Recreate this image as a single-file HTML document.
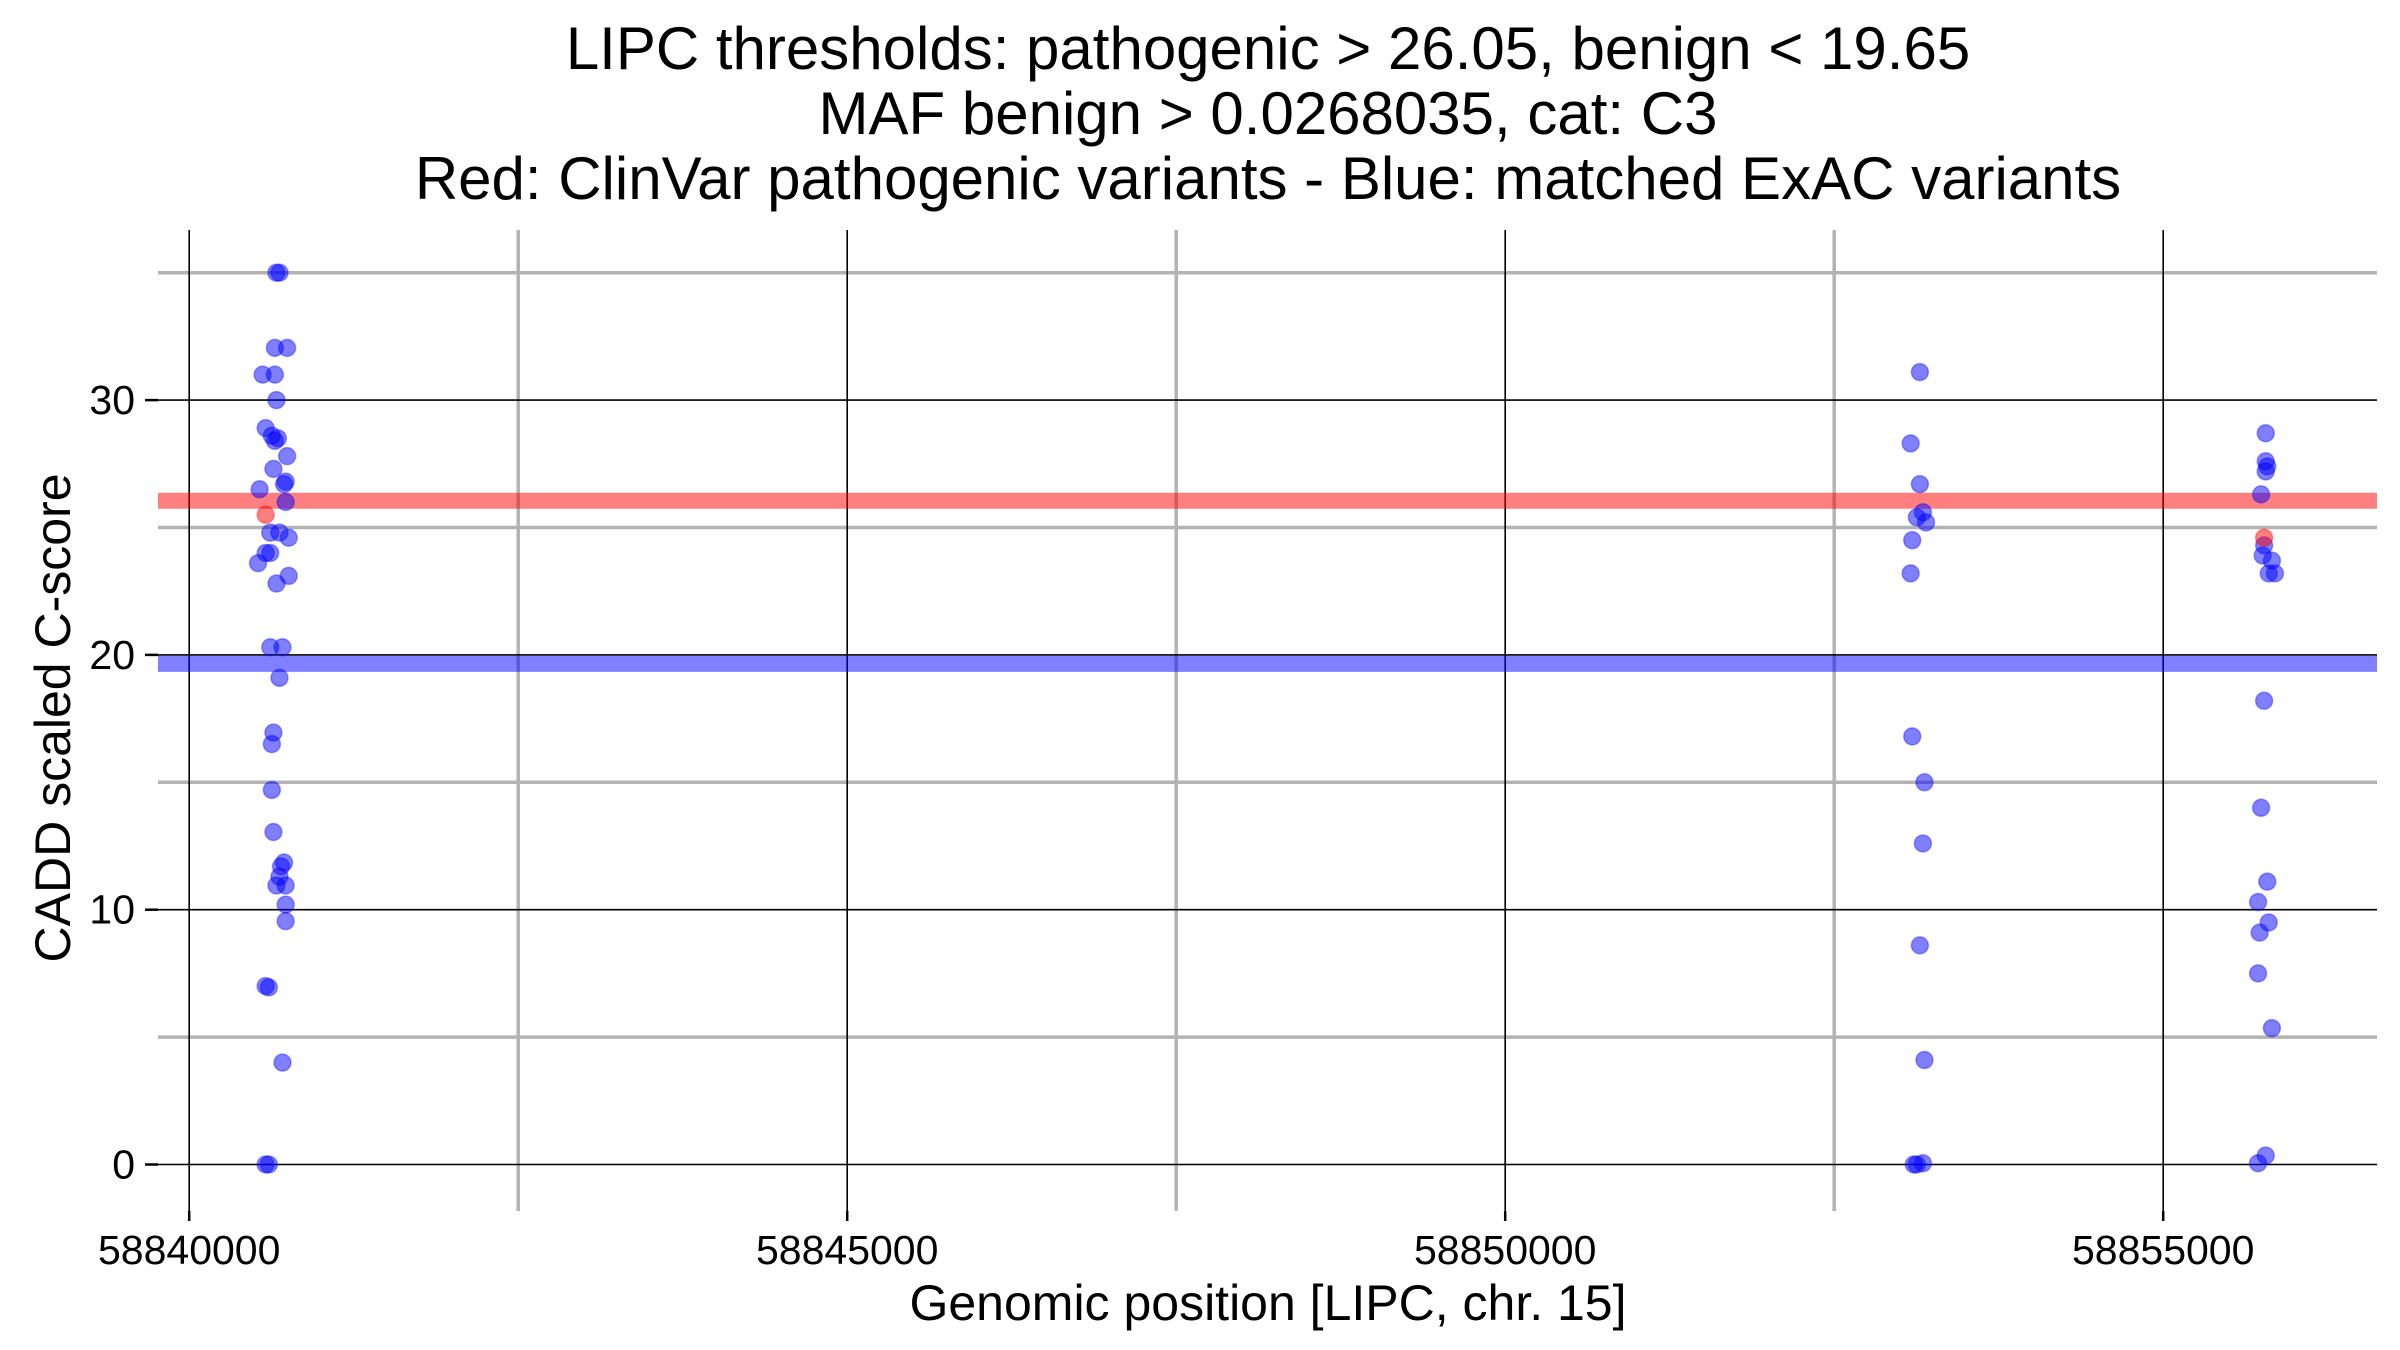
<!DOCTYPE html>
<html><head><meta charset="utf-8"><style>
html,body{margin:0;padding:0;background:#fff;}
svg{display:block;font-family:"Liberation Sans",Arial,sans-serif;}
</style></head><body>
<svg id="chart" width="2400" height="1350" viewBox="0 0 2400 1350" xmlns="http://www.w3.org/2000/svg">
<g font-size="60" text-anchor="middle" fill="#000">
<text x="1268" y="69">LIPC thresholds: pathogenic &gt; 26.05, benign &lt; 19.65</text>
<text x="1268" y="134">MAF benign &gt; 0.0268035, cat: C3</text>
<text x="1268" y="199">Red: ClinVar pathogenic variants - Blue: matched ExAC variants</text>
</g>
<g id="grid"></g>
<g id="bands"></g>
<g id="points"></g>
<g id="axes" font-size="41" fill="#000"></g>
<text x="1268" y="1320" font-size="50" text-anchor="middle">Genomic position [LIPC, chr. 15]</text>
<text transform="translate(70,718) rotate(-90)" font-size="50" text-anchor="middle">CADD scaled C-score</text>
</svg>
<script>
const xTicks = [58840000, 58845000, 58850000, 58855000];
const xMinor = [58842500, 58847500, 58852500];
const yTicks = [0, 10, 20, 30];
const yMinor = [5, 15, 25, 35];
const thresholdPathogenic = 26.05;
const thresholdBenign = 19.65;
const bluePos = [58840663,58840686,58840651,58840744,58840558,58840651,58840663,58840581,58840628,58840674,58840651,58840744,58840640,58840733,58840721,58840535,58840733,58840616,58840686,58840756,58840581,58840616,58840523,58840756,58840663,58840616,58840709,58840686,58840640,58840628,58840628,58840640,58840721,58840698,58840686,58840663,58840733,58840733,58840733,58840581,58840605,58840709,58840581,58840605,
58853151,58853081,58853151,58853174,58853128,58853198,58853093,58853081,58853093,58853186,58853174,58853151,58853186,58853128,58853174,58853105,
58855779,58855779,58855791,58855779,58855744,58855767,58855756,58855826,58855802,58855849,58855767,58855744,58855791,58855721,58855733,58855802,58855721,58855826,58855721,58855779];
const blueVal = [35,35,32.05,32.05,31,31,30,28.9,28.6,28.5,28.4,27.8,27.3,26.8,26.7,26.5,26.0,24.8,24.8,24.6,24.0,24.0,23.6,23.1,22.8,20.3,20.3,19.1,16.95,16.5,14.7,13.05,11.85,11.7,11.3,10.95,10.95,10.2,9.55,7.0,6.95,4.0,0,0,
31.1,28.3,26.7,25.6,25.4,25.2,24.5,23.2,16.8,15.0,12.6,8.6,4.1,0,0.05,0,
28.7,27.6,27.4,27.2,26.3,24.3,23.9,23.7,23.2,23.2,18.2,14.0,11.1,10.3,9.1,9.5,7.5,5.35,0.05,0.35];
const redPos = [58840581, 58855767];
const redVal = [25.5, 24.6];

const X0 = 58840000, PX0 = 189.2, PXPER = 658/5000;
const PY0 = 1164.5, PYPER = 25.48;
const LEFT = 158, RIGHT = 2377, TOP = 230, BOTTOM = 1211;
function xs(v){ return PX0 + (v - X0) * PXPER; }
function ys(v){ return PY0 - v * PYPER; }
const NS = "http://www.w3.org/2000/svg";
function mk(tag, attrs, parent){ const e = document.createElementNS(NS, tag); for (const k in attrs) e.setAttribute(k, attrs[k]); parent.appendChild(e); return e; }
const grid = document.getElementById('grid');
yMinor.forEach(v => {
  const l = mk('line', {x1:LEFT, x2:RIGHT, y1:ys(v), y2:ys(v), stroke:'#b3b3b3', 'stroke-width':3.5}, grid);
  
  
});
xMinor.forEach(v => {
  const l = mk('line', {x1:xs(v), x2:xs(v), y1:TOP, y2:BOTTOM, stroke:'#b3b3b3', 'stroke-width':3.5}, grid);
  
  
});
yTicks.forEach(v => {
  const l = mk('line', {x1:LEFT, x2:RIGHT, y1:ys(v), y2:ys(v), stroke:'#000', 'stroke-width':1.6}, grid);
  
  
});
xTicks.forEach(v => {
  const l = mk('line', {x1:xs(v), x2:xs(v), y1:TOP, y2:BOTTOM, stroke:'#000', 'stroke-width':1.6}, grid);
  
  
});
const bands = document.getElementById('bands');
const rb = mk('line', {x1:LEFT, x2:RIGHT, y1:ys(thresholdPathogenic), y2:ys(thresholdPathogenic), stroke:'rgba(255,0,0,0.5)', 'stroke-width':16}, bands);


const bb = mk('line', {x1:LEFT, x2:RIGHT, y1:ys(thresholdBenign), y2:ys(thresholdBenign), stroke:'rgba(0,0,255,0.5)', 'stroke-width':16}, bands);


const pts = document.getElementById('points');
bluePos.forEach((p, i) => {
  const c = mk('circle', {cx:xs(p), cy:ys(blueVal[i]), r:8.5, fill:'rgba(0,0,255,0.5)', stroke:'rgba(0,0,255,0.35)', 'stroke-width':1.5}, pts);
  
  
});
redPos.forEach((p, i) => {
  const c = mk('circle', {cx:xs(p), cy:ys(redVal[i]), r:8.5, fill:'rgba(255,0,0,0.5)', stroke:'rgba(255,0,0,0.35)', 'stroke-width':1.5}, pts);
  
  
});
const axes = document.getElementById('axes');
yTicks.forEach(v => {
  const t = mk('line', {x1:145, x2:LEFT, y1:ys(v), y2:ys(v), stroke:'#000', 'stroke-width':2.5}, axes);
  
  
  const l = mk('text', {x:135, y:ys(v)+14, 'text-anchor':'end'}, axes);
  l.textContent = v;
  
  
});
xTicks.forEach(v => {
  const t = mk('line', {x1:xs(v), x2:xs(v), y1:BOTTOM, y2:BOTTOM+10, stroke:'#000', 'stroke-width':2.5}, axes);
  
  
  const l = mk('text', {x:xs(v), y:1264, 'text-anchor':'middle'}, axes);
  l.textContent = v;
  
  
});
</script>
</body></html>
